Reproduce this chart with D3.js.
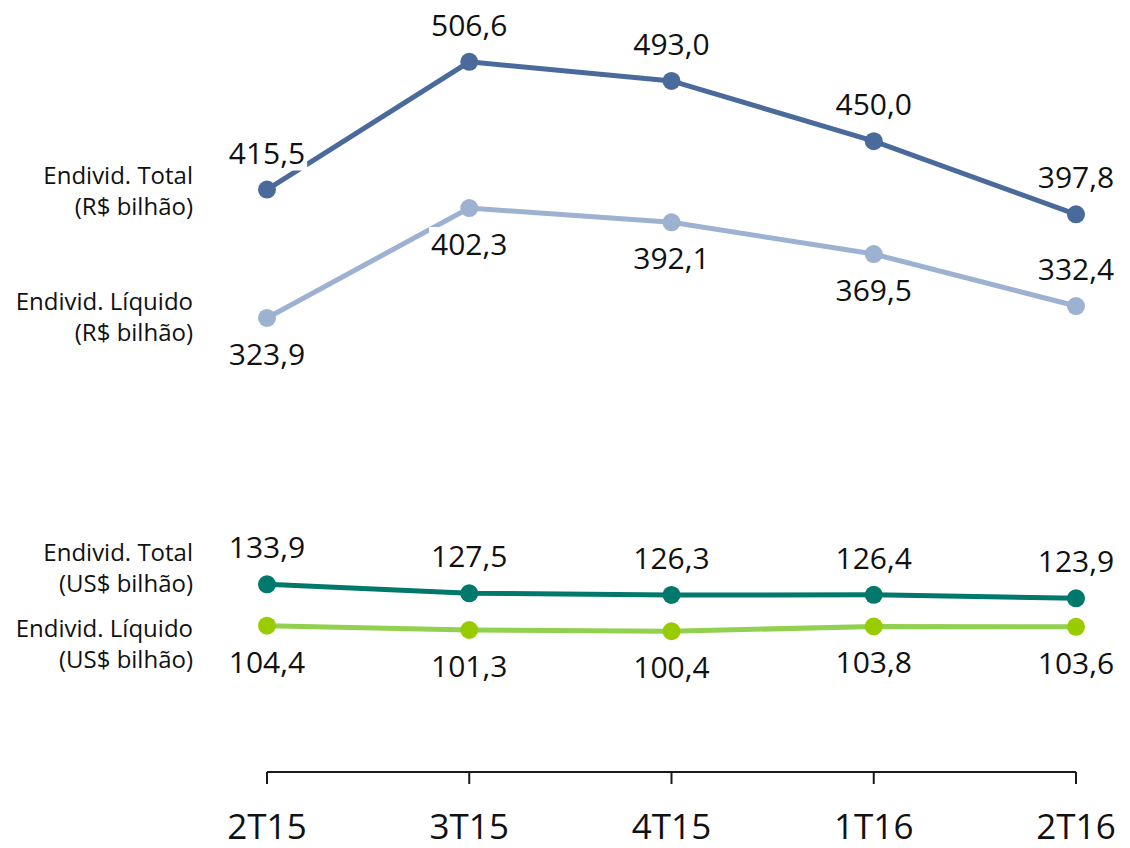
<!DOCTYPE html>
<html>
<head>
<meta charset="utf-8">
<script src="https://cdn.jsdelivr.net/npm/d3@7"></script>
<style>
  body { margin: 0; background: #fff; }
  svg { font-family: "Open Sans", "Noto Sans", sans-serif; }
</style>
</head>
<body>
<div class="chart"></div>
<script>
// Quarterly debt, R$ and US$ billions

var categories = ["2T15", "3T15", "4T15", "1T16", "2T16"];

var totalBRL = [415.5, 506.6, 493.0, 450.0, 397.8];
var netBRL   = [323.9, 402.3, 392.1, 369.5, 332.4];
var totalUSD = [133.9, 127.5, 126.3, 126.4, 123.9];
var netUSD   = [104.4, 101.3, 100.4, 103.8, 103.6];

// label side for each point: -1 above, 1 below
var totalBRLSide = [-1, -1, -1, -1, -1];
var netBRLSide   = [1, 1, 1, 1, -1];
var totalUSDSide = [-1, -1, -1, -1, -1];
var netUSDSide   = [1, 1, 1, 1, 1];

var seriesNames = [
    ["Endivid. Total", "(R$ bilhão)"],
    ["Endivid. Líquido", "(R$ bilhão)"],
    ["Endivid. Total", "(US$ bilhão)"],
    ["Endivid. Líquido", "(US$ bilhão)"]
];

var svgWidth = 1130;
var svgHeight = 848;

var svg = d3.select(".chart")
    .append("svg")
    .attr("width", svgWidth)
    .attr("height", svgHeight);

var xScale = d3.scalePoint()
    .domain(categories)
    .range([267, 1076]);

var yScale = d3.scaleLinear()
    .domain([0, 550])
    .range([772, 1]);

var series = [
    { values: totalBRL, side: totalBRLSide, line: "#4a6a9b", dot: "#4a6a9b", name: seriesNames[0], nameY: 184 },
    { values: netBRL, side: netBRLSide, line: "#9db1d1", dot: "#9db1d1", name: seriesNames[1], nameY: 310 },
    { values: totalUSD, side: totalUSDSide, line: "#00786c", dot: "#00786c", name: seriesNames[2], nameY: 561 },
    { values: netUSD, side: netUSDSide, line: "#92d050", dot: "#99cc00", name: seriesNames[3], nameY: 637 }
];

var fmt = function(v) { return v.toFixed(1).replace(".", ","); };

// x axis: line with ticks pointing down
var axis = svg.append("g")
    .attr("class", "x-axis")
    .attr("transform", "translate(0," + yScale(0) + ")");

axis.append("line")
    .attr("x1", xScale(categories[0]))
    .attr("x2", xScale(categories[categories.length - 1]))
    .attr("stroke", "#1a1a1a")
    .attr("stroke-width", 2);

axis.selectAll(".tick")
    .data(categories)
    .enter()
    .append("line")
    .attr("x1", function(d) { return xScale(d); })
    .attr("x2", function(d) { return xScale(d); })
    .attr("y1", 0)
    .attr("y2", 12)
    .attr("stroke", "#1a1a1a")
    .attr("stroke-width", 2);

axis.selectAll(".cat")
    .data(categories)
    .enter()
    .append("text")
    .attr("x", function(d) { return xScale(d); })
    .attr("y", 67)
    .attr("text-anchor", "middle")
    .attr("font-size", "35px")
    .attr("fill", "#111")
    .text(function(d) { return d; });

var lineGen = d3.line()
    .x(function(d, i) { return xScale(categories[i]); })
    .y(function(d) { return yScale(d); });

series.forEach(function(s) {

    var g = svg.append("g");

    g.append("path")
        .datum(s.values)
        .attr("d", lineGen)
        .attr("fill", "none")
        .attr("stroke", s.line)
        .attr("stroke-width", 5);

    g.selectAll("circle")
        .data(s.values)
        .enter()
        .append("circle")
        .attr("cx", function(d, i) { return xScale(categories[i]); })
        .attr("cy", function(d) { return yScale(d); })
        .attr("r", 9)
        .attr("fill", s.dot);

    // series name on the left
    svg.append("text")
        .attr("x", 193)
        .attr("y", s.nameY)
        .attr("text-anchor", "end")
        .attr("font-size", "24px")
        .attr("fill", "#111")
        .selectAll("tspan")
        .data(s.name)
        .enter()
        .append("tspan")
        .attr("x", 193)
        .attr("dy", function(d, i) { return i ? 31 : 0; })
        .text(function(d) { return d; });
});

// value labels on top, with white box behind
series.forEach(function(s) {
    s.values.forEach(function(v, i) {
        var lg = svg.append("g");
        var t = lg.append("text")
            .attr("x", xScale(categories[i]))
            .attr("y", yScale(v) + (s.side[i] < 0 ? -26 : 47))
            .attr("text-anchor", "middle")
            .attr("font-size", "30px")
            .attr("fill", "#111")
            .text(fmt(v));
        var b = t.node().getBBox();
        lg.insert("rect", "text")
            .attr("x", b.x - 2)
            .attr("y", b.y + 4)
            .attr("width", b.width + 4)
            .attr("height", b.height - 6)
            .attr("fill", "#fff");
    });
});
</script>
</body>
</html>
